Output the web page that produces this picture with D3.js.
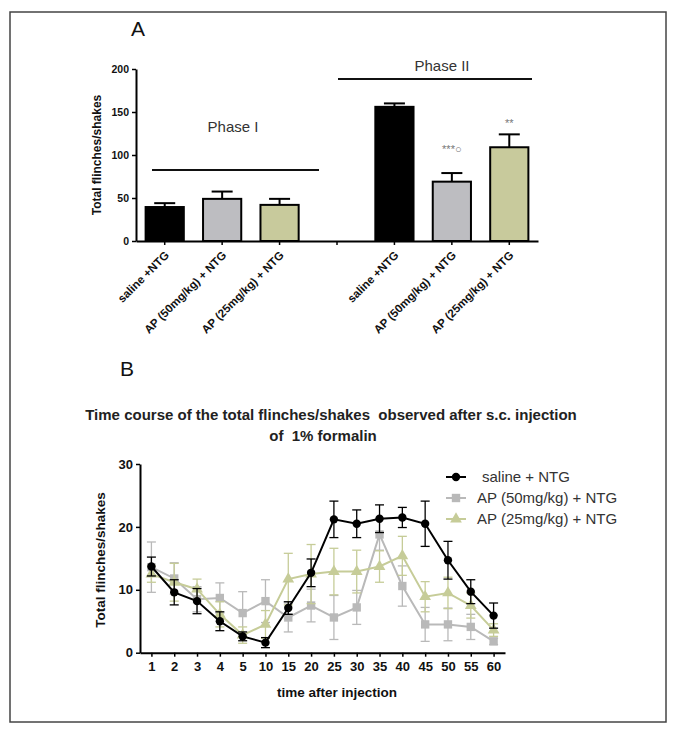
<!DOCTYPE html>
<html><head><meta charset="utf-8">
<script src="https://cdn.jsdelivr.net/npm/d3@7"></script>
<style>
body{margin:0;background:#fff;}
svg text{font-family:"Liberation Sans",Arial,sans-serif;}
</style></head>
<body>
<svg id="c" width="675" height="733"></svg>
<script>
// ---------- Panel A data ----------
const barCategories = ["saline +NTG", "AP (50mg/kg) + NTG", "AP (25mg/kg) + NTG"];
const phase1Means = [39.5, 49, 42];
const phase1Err = [4.5, 8.5, 7];
const phase2Means = [156, 69, 109];
const phase2Err = [4, 10, 15];
const phase2Marks = ["", "***○", "**"];
const barYTicks = [0, 50, 100, 150, 200];

// ---------- Panel B data ----------
const timePoints = ["1","2","3","4","5","10","15","20","25","30","35","40","45","50","55","60"];
const seriesNames = ["saline + NTG", "AP (50mg/kg) + NTG", "AP (25mg/kg) + NTG"];
const salineMean = [13.7, 9.6, 8.2, 5.0, 2.6, 1.6, 7.1, 12.7, 21.2, 20.5, 21.3, 21.5, 20.5, 14.7, 9.7, 5.9];
const salineSem  = [1.5, 2, 2, 1.5, 0.7, 0.8, 1, 2.2, 2.9, 2.2, 2.2, 1.6, 3.6, 3, 1.9, 2];
const ap50Mean   = [13.6, 11.8, 8.5, 8.7, 6.3, 8.2, 5.6, 7.5, 5.6, 7.2, 18.8, 10.6, 4.5, 4.5, 4.1, 1.8];
const ap50Sem    = [4, 2.5, 2, 2.4, 3.4, 3.4, 2.3, 2.6, 3.5, 2.7, 2.5, 3.2, 2.7, 2.6, 2, 0.5];
const ap25Mean   = [12.5, 11.2, 10.1, 6.1, 2.8, 4.5, 11.7, 12.5, 12.9, 12.9, 13.7, 15.4, 8.9, 9.5, 7.5, 3.6];
const ap25Sem    = [1.3, 3, 1.6, 2, 1.3, 2.2, 4.1, 4.7, 3.7, 3.4, 2.5, 3.1, 2.4, 2.5, 2, 1];
const lineYTicks = [0, 10, 20, 30];

const barColors = ["#000000", "#bdbdc1", "#c8ca9c"];
const lineColors = ["#000000", "#b9b9b9", "#c6cc98"];

const svg = d3.select("#c");

// frame
svg.append("rect").attr("x", 10).attr("y", 12).attr("width", 656).attr("height", 710)
  .attr("fill", "none").attr("stroke", "#444").attr("stroke-width", 1.5);

// ================= Panel A =================
svg.append("text").attr("x", 138).attr("y", 36).attr("text-anchor", "middle")
  .attr("font-size", 21).attr("fill", "#111").text("A");

const barDomain = ["p1_0","p1_1","p1_2","gap","p2_0","p2_1","p2_2"];
const barLabels = {"p1_0":barCategories[0],"p1_1":barCategories[1],"p1_2":barCategories[2],"gap":"",
                   "p2_0":barCategories[0],"p2_1":barCategories[1],"p2_2":barCategories[2]};
const xb = d3.scaleBand().domain(barDomain).range([136, 538]).paddingInner(0.3).paddingOuter(0.15);
const yb = d3.scaleLinear().domain([0, 200]).range([241, 69]);

const markOffset = {"***○": 20, "**": 7};
const barData = [];
phase1Means.forEach((m,i)=>barData.push({key:"p1_"+i, v:m, e:phase1Err[i], c:barColors[i], mark:""}));
phase2Means.forEach((m,i)=>barData.push({key:"p2_"+i, v:m, e:phase2Err[i], c:barColors[i], mark:phase2Marks[i]}));

const gA = svg.append("g");
// error bars (upper only)
barData.forEach(d=>{
  const cx = xb(d.key) + xb.bandwidth()/2;
  gA.append("line").attr("x1",cx).attr("x2",cx).attr("y1",yb(d.v)).attr("y2",yb(d.v+d.e))
    .attr("stroke","#000").attr("stroke-width",2);
  gA.append("line").attr("x1",cx-10.5).attr("x2",cx+10.5).attr("y1",yb(d.v+d.e)).attr("y2",yb(d.v+d.e))
    .attr("stroke","#000").attr("stroke-width",2);
});
gA.selectAll("rect.bar").data(barData).join("rect").attr("class","bar")
  .attr("x", d=>xb(d.key)+1).attr("width", xb.bandwidth()-2)
  .attr("y", d=>yb(d.v)).attr("height", d=>yb(0)-yb(d.v))
  .attr("fill", d=>d.c).attr("stroke","#000").attr("stroke-width",2);
gA.selectAll("text.mark").data(barData.filter(d=>d.mark)).join("text").attr("class","mark")
  .attr("x", d=>xb(d.key)+xb.bandwidth()/2).attr("y", d=>yb(d.v+d.e)-markOffset[d.mark])
  .attr("text-anchor","middle").attr("font-size",11).attr("fill","#777").text(d=>d.mark);

// axes
const yAxisA = d3.axisLeft(yb).tickValues(barYTicks).tickSize(4).tickSizeOuter(0);
const gyA = svg.append("g").attr("transform","translate(136,0)").call(yAxisA);
gyA.select(".domain").attr("stroke","#000").attr("stroke-width",2);
gyA.selectAll(".tick line").attr("stroke","#000").attr("stroke-width",1.5);
gyA.selectAll(".tick text").attr("font-size",10.5).attr("font-weight","bold").attr("fill","#111")
  .attr("font-family","Liberation Sans, Arial, sans-serif");

const xAxisA = d3.axisBottom(xb).tickSize(4).tickSizeOuter(0).tickFormat(k=>barLabels[k]);
const gxA = svg.append("g").attr("transform","translate(0,241)").call(xAxisA);
gxA.select(".domain").attr("stroke","#000").attr("stroke-width",2);
gxA.selectAll(".tick line").attr("stroke","#000").attr("stroke-width",1.5);
gxA.selectAll(".tick text").attr("font-size",11.5).attr("font-weight","bold").attr("fill","#111")
  .attr("font-family","Liberation Sans, Arial, sans-serif")
  .attr("text-anchor","end").attr("dy",null).attr("y",null)
  .attr("transform","translate(5,15) rotate(-45)");

svg.append("text").attr("transform","translate(101,155) rotate(-90)").attr("text-anchor","middle")
  .attr("font-size",12).attr("font-weight","bold").attr("fill","#111").text("Total flinches/shakes");

// phase lines
svg.append("line").attr("x1",152).attr("x2",319).attr("y1",170).attr("y2",170).attr("stroke","#111").attr("stroke-width",2);
svg.append("text").attr("x",233).attr("y",132).attr("text-anchor","middle").attr("font-size",15).attr("fill","#333").text("Phase I");
svg.append("line").attr("x1",338).attr("x2",532).attr("y1",79).attr("y2",79).attr("stroke","#111").attr("stroke-width",2);
svg.append("text").attr("x",442).attr("y",71).attr("text-anchor","middle").attr("font-size",15).attr("fill","#333").text("Phase II");

// ================= Panel B =================
svg.append("text").attr("x",127).attr("y",376).attr("text-anchor","middle")
  .attr("font-size",21).attr("fill","#111").text("B");
svg.append("text").attr("x",331).attr("y",420).attr("text-anchor","middle").style("white-space","pre")
  .attr("font-size",15).attr("font-weight","bold").attr("fill","#222")
  .text("Time course of the total flinches/shakes  observed after s.c. injection");
svg.append("text").attr("x",323).attr("y",441).attr("text-anchor","middle").style("white-space","pre")
  .attr("font-size",15).attr("font-weight","bold").attr("fill","#222").text("of  1% formalin");

const xl = d3.scalePoint().domain(timePoints).range([140, 505]).padding(0.5);
const yl = d3.scaleLinear().domain([0, 30]).range([652.7, 464]);

const gyB = svg.append("g").attr("transform","translate(140,0)")
  .call(d3.axisLeft(yl).tickValues(lineYTicks).tickSize(4).tickSizeOuter(0));
gyB.select(".domain").attr("stroke","#000").attr("stroke-width",2);
gyB.selectAll(".tick line").attr("stroke","#000").attr("stroke-width",1.5);
gyB.selectAll(".tick text").attr("font-size",13).attr("font-weight","bold").attr("fill","#111")
  .attr("font-family","Liberation Sans, Arial, sans-serif");

const gxB = svg.append("g").attr("transform","translate(0,652.7)")
  .call(d3.axisBottom(xl).tickSize(4).tickSizeOuter(0));
gxB.select(".domain").attr("stroke","#000").attr("stroke-width",2);
gxB.selectAll(".tick line").attr("stroke","#000").attr("stroke-width",1.5);
gxB.selectAll(".tick text").attr("font-size",13).attr("font-weight","bold").attr("fill","#111")
  .attr("font-family","Liberation Sans, Arial, sans-serif").attr("y",9);

svg.append("text").attr("transform","translate(105,560) rotate(-90)").attr("text-anchor","middle")
  .attr("font-size",13.5).attr("font-weight","bold").attr("fill","#111").text("Total flinches/shakes");
svg.append("text").attr("x",337).attr("y",697).attr("text-anchor","middle")
  .attr("font-size",13.5).attr("font-weight","bold").attr("fill","#111").text("time after injection");

const series = [
  {name:seriesNames[1], mean:ap50Mean, sem:ap50Sem, color:lineColors[1], shape:"square"},
  {name:seriesNames[2], mean:ap25Mean, sem:ap25Sem, color:lineColors[2], shape:"triangle"},
  {name:seriesNames[0], mean:salineMean, sem:salineSem, color:lineColors[0], shape:"circle"}
];
const symType = {square:d3.symbolSquare, triangle:d3.symbolTriangle, circle:d3.symbolCircle};
const symSize = {square:70, triangle:60, circle:55};

series.forEach(s=>{
  const g = svg.append("g");
  const pts = timePoints.map((t,i)=>({t, v:s.mean[i], e:s.sem[i]}));
  // error bars
  pts.forEach(p=>{
    const cx = xl(p.t);
    g.append("line").attr("x1",cx).attr("x2",cx).attr("y1",yl(p.v-p.e)).attr("y2",yl(p.v+p.e))
      .attr("stroke",s.color).attr("stroke-width",1.3);
    [p.v-p.e, p.v+p.e].forEach(vv=>{
      g.append("line").attr("x1",cx-4.5).attr("x2",cx+4.5).attr("y1",yl(vv)).attr("y2",yl(vv))
        .attr("stroke",s.color).attr("stroke-width",1.3);
    });
  });
  g.append("path").datum(pts)
    .attr("d", d3.line().x(p=>xl(p.t)).y(p=>yl(p.v)))
    .attr("fill","none").attr("stroke",s.color).attr("stroke-width",2);
  g.selectAll("path.sym").data(pts).join("path").attr("class","sym")
    .attr("transform",p=>`translate(${xl(p.t)},${yl(p.v)})`)
    .attr("d", d3.symbol().type(symType[s.shape]).size(symSize[s.shape]))
    .attr("fill",s.color);
});

// legend
const legendOrder = [series[2], series[0], series[1]];
const legendY = [477, 498, 519];
const legendTextX = [482, 477, 477];
legendOrder.forEach((s,i)=>{
  const y = legendY[i];
  svg.append("line").attr("x1",446).attr("x2",466).attr("y1",y).attr("y2",y)
    .attr("stroke",s.color).attr("stroke-width",2);
  svg.append("path").attr("transform",`translate(456,${y})`)
    .attr("d", d3.symbol().type(symType[s.shape]).size(symSize[s.shape])).attr("fill",s.color);
  svg.append("text").attr("x",legendTextX[i]).attr("y",y+5).attr("font-size",15).attr("fill","#333").text(s.name);
});
</script>
</body></html>
